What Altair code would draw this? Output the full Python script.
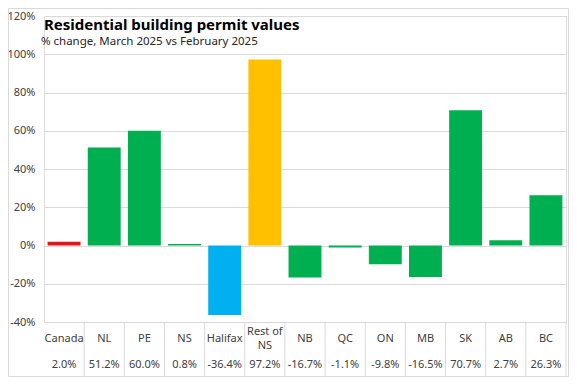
import altair as alt
import pandas as pd

categories = ["Canada", "NL", "PE", "NS", "Halifax", "Rest of\nNS", "NB", "QC", "ON", "MB", "SK", "AB", "BC"]
values = [2.0, 51.2, 60.0, 0.8, -36.4, 97.2, -16.7, -1.1, -9.8, -16.5, 70.7, 2.7, 26.3]
colors = ["#E3151B", "#00B050", "#00B050", "#00B050", "#00B0F0", "#FFC000",
          "#00B050", "#00B050", "#00B050", "#00B050", "#00B050", "#00B050", "#00B050"]
y_ticks = [-40, -20, 0, 20, 40, 60, 80, 100, 120]
title_text = "Residential building permit values"
subtitle_text = "% change, March 2025 vs February 2025"

df = pd.DataFrame({
    "cat": categories,
    "value": values,
    "color": colors,
    "label": [f"{v:.1f}%" for v in values],
})

TOP = 8
W, H = 522, 306
FONT = "Noto Sans"

xscale = alt.Scale(domain=categories, paddingInner=0, paddingOuter=0)
x_enc = alt.X("cat:N", scale=xscale, axis=None, sort=categories)

base = alt.Chart(df)

bars = base.mark_bar(width={"band": 0.82}).encode(
    x=x_enc,
    y=alt.Y("value:Q",
            scale=alt.Scale(domain=[-40, 120], nice=False, zero=True),
            axis=alt.Axis(values=y_ticks, labelExpr="datum.value + '%'", title=None,
                          grid=True, gridColor="#D9D9D9", gridWidth=1,
                          domain=False, ticks=False, labelPadding=9,
                          labelFont=FONT, labelFontSize=11, labelColor="#404040")),
    y2=alt.datum(0),
    color=alt.Color("color:N", scale=None),
)

seps = base.mark_rule(color="#D9D9D9", strokeWidth=1).encode(
    x=alt.X("cat:N", scale=xscale, axis=None, sort=categories, bandPosition=1),
    y=alt.value(H),
    y2=alt.value(H + 54),
)

names_single = base.transform_filter("indexof(datum.cat, '\\n') < 0").mark_text(
    font=FONT, fontSize=11, color="#404040",
    baseline="middle", align="center").encode(
    x=x_enc,
    y=alt.value(H + 17),
    text="cat:N",
)

names_multi = base.transform_filter("indexof(datum.cat, '\\n') >= 0").mark_text(
    font=FONT, fontSize=11, color="#404040", lineBreak="\n", lineHeight=14,
    baseline="middle", align="center").encode(
    x=x_enc,
    y=alt.value(H + 10),
    text="cat:N",
)

vals = base.mark_text(font=FONT, fontSize=11, color="#404040",
                      baseline="middle", align="center").encode(
    x=x_enc,
    y=alt.value(H + 43),
    text="label:N",
)

one = alt.Chart(pd.DataFrame({"t": [title_text], "s": [subtitle_text]}))

title = one.mark_text(font=FONT, fontSize=15, fontWeight="bold", color="#000000",
                      align="left", baseline="alphabetic").encode(
    x=alt.value(0), y=alt.value(14), text="t:N")

subtitle = one.mark_text(font=FONT, fontSize=11.5, color="#262626",
                         align="left", baseline="alphabetic").encode(
    x=alt.value(-3), y=alt.value(29), text="s:N")

border = one.mark_rect(fill=None, stroke="#D9D9D9", strokeWidth=1).encode(
    x=alt.value(-35.5), x2=alt.value(W + 2.5),
    y=alt.value(-TOP + 0.5), y2=alt.value(H + 54.5),
)

chart = alt.layer(border, bars, seps, names_single, names_multi, vals, title, subtitle).properties(
    width=W, height=H,
    autosize=alt.AutoSizeParams(type="none"),
    padding={"left": 36, "top": TOP, "right": 3, "bottom": 55},
).configure_view(stroke=None).configure(background="white")

chart.save("out.html", embed_options={"renderer": "svg", "actions": False})
